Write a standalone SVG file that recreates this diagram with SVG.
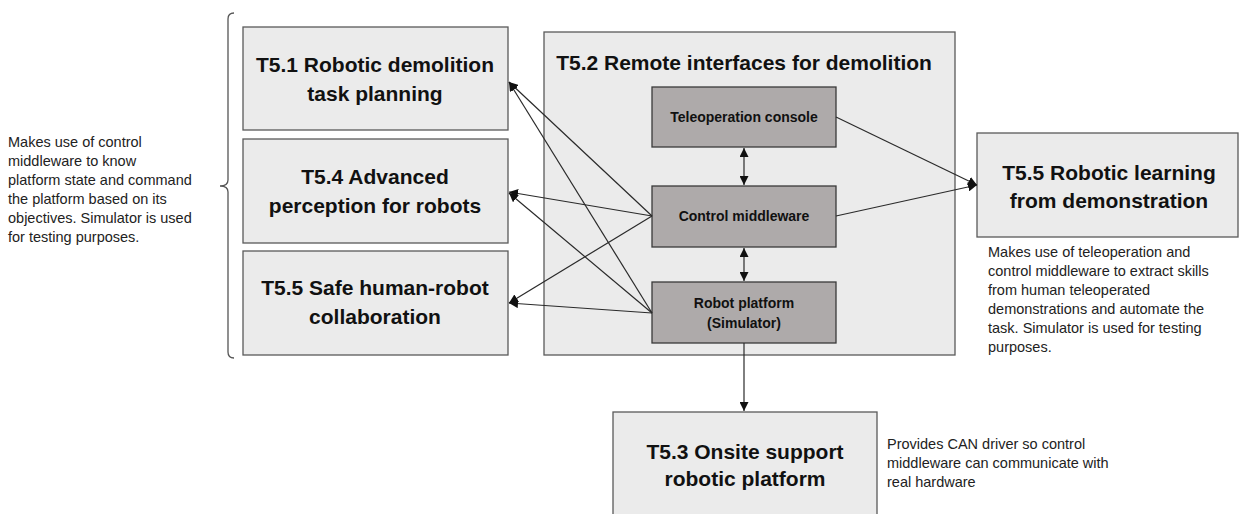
<svg xmlns="http://www.w3.org/2000/svg" width="1239" height="514" viewBox="0 0 1239 514">
<style>
.box{fill:#ebebeb;stroke:#5a5a5a;stroke-width:1.3}
.inner{fill:#aeaaaa;stroke:#3a3a3a;stroke-width:1.3}
.big{font-family:"Liberation Sans",Arial,sans-serif;font-weight:bold;font-size:21px;fill:#111;text-anchor:middle}
.small{font-family:"Liberation Sans",Arial,sans-serif;font-weight:bold;font-size:14px;fill:#111;text-anchor:middle}
.note{font-family:"Liberation Sans",Arial,sans-serif;font-size:14.5px;fill:#222}
.conn{stroke:#2a2a2a;stroke-width:1.2;fill:none}
</style>
<defs>
<marker id="ah" viewBox="0 0 10 10" refX="10" refY="5" markerWidth="9" markerHeight="9" markerUnits="userSpaceOnUse" orient="auto-start-reverse">
<path d="M0,0 L10,5 L0,10 z" fill="#111"/>
</marker>
</defs>
<rect width="1239" height="514" fill="#fff"/>

<g id="brace">
<path d="M234,13 Q228,13 228,19 L228,180 Q228,186 220,186 Q228,186 228,192 L228,352 Q228,358 234,358" fill="none" stroke="#555" stroke-width="1.3"/>
</g>

<g id="note-left">
<text class="note" x="8" y="147">Makes use of control</text>
<text class="note" x="8" y="166">middleware to know</text>
<text class="note" x="8" y="185">platform state and command</text>
<text class="note" x="8" y="204">the platform based on its</text>
<text class="note" x="8" y="223">objectives. Simulator is used</text>
<text class="note" x="8" y="242">for testing purposes.</text>
</g>

<g id="t51">
<rect class="box" x="243" y="27" width="265" height="103"/>
<text class="big" x="375" y="72">T5.1 Robotic demolition</text>
<text class="big" x="375" y="101">task planning</text>
</g>
<g id="t54">
<rect class="box" x="243" y="139" width="265" height="104"/>
<text class="big" x="375" y="184">T5.4 Advanced</text>
<text class="big" x="375" y="213">perception for robots</text>
</g>
<g id="t55safe">
<rect class="box" x="243" y="251" width="265" height="104"/>
<text class="big" x="375" y="295">T5.5 Safe human-robot</text>
<text class="big" x="375" y="324">collaboration</text>
</g>

<g id="t52">
<rect class="box" x="544" y="32" width="411" height="323"/>
<text class="big" x="744" y="70">T5.2 Remote interfaces for demolition</text>
</g>
<g id="teleop">
<rect class="inner" x="652" y="87" width="184" height="60"/>
<text class="small" x="744" y="122">Teleoperation console</text>
</g>
<g id="middleware">
<rect class="inner" x="652" y="186" width="184" height="61"/>
<text class="small" x="744" y="221">Control middleware</text>
</g>
<g id="robot">
<rect class="inner" x="652" y="282" width="184" height="61"/>
<text class="small" x="744" y="308">Robot platform</text>
<text class="small" x="744" y="328">(Simulator)</text>
</g>

<g id="t55learn">
<rect class="box" x="977" y="133" width="261" height="104"/>
<text class="big" x="1109" y="180">T5.5 Robotic learning</text>
<text class="big" x="1109" y="208">from demonstration</text>
</g>
<g id="note-right">
<text class="note" x="988" y="257">Makes use of teleoperation and</text>
<text class="note" x="988" y="276">control middleware to extract skills</text>
<text class="note" x="988" y="295">from human teleoperated</text>
<text class="note" x="988" y="314">demonstrations and automate the</text>
<text class="note" x="988" y="333">task. Simulator is used for testing</text>
<text class="note" x="988" y="352">purposes.</text>
</g>

<g id="t53">
<rect class="box" x="613" y="412" width="264" height="110"/>
<text class="big" x="745" y="459">T5.3 Onsite support</text>
<text class="big" x="745" y="486">robotic platform</text>
</g>
<g id="note-bottom">
<text class="note" x="887" y="449">Provides CAN driver so control</text>
<text class="note" x="887" y="468">middleware can communicate with</text>
<text class="note" x="887" y="487">real hardware</text>
</g>

<g id="connectors">
<line class="conn" x1="652" y1="216" x2="509" y2="82" marker-end="url(#ah)"/>
<line class="conn" x1="652" y1="216" x2="509" y2="192" marker-end="url(#ah)"/>
<line class="conn" x1="652" y1="216" x2="509" y2="303" marker-end="url(#ah)"/>
<line class="conn" x1="652" y1="313" x2="509" y2="82" marker-end="url(#ah)"/>
<line class="conn" x1="652" y1="313" x2="509" y2="193" marker-end="url(#ah)"/>
<line class="conn" x1="652" y1="313" x2="509" y2="303" marker-end="url(#ah)"/>
<line class="conn" x1="836" y1="117" x2="977" y2="185" marker-end="url(#ah)"/>
<line class="conn" x1="836" y1="216" x2="977" y2="185" marker-end="url(#ah)"/>
<line class="conn" x1="744" y1="148" x2="744" y2="185" marker-start="url(#ah)" marker-end="url(#ah)"/>
<line class="conn" x1="744" y1="248" x2="744" y2="281" marker-start="url(#ah)" marker-end="url(#ah)"/>
<line class="conn" x1="744" y1="343" x2="744" y2="411" marker-end="url(#ah)"/>
</g>
</svg>
